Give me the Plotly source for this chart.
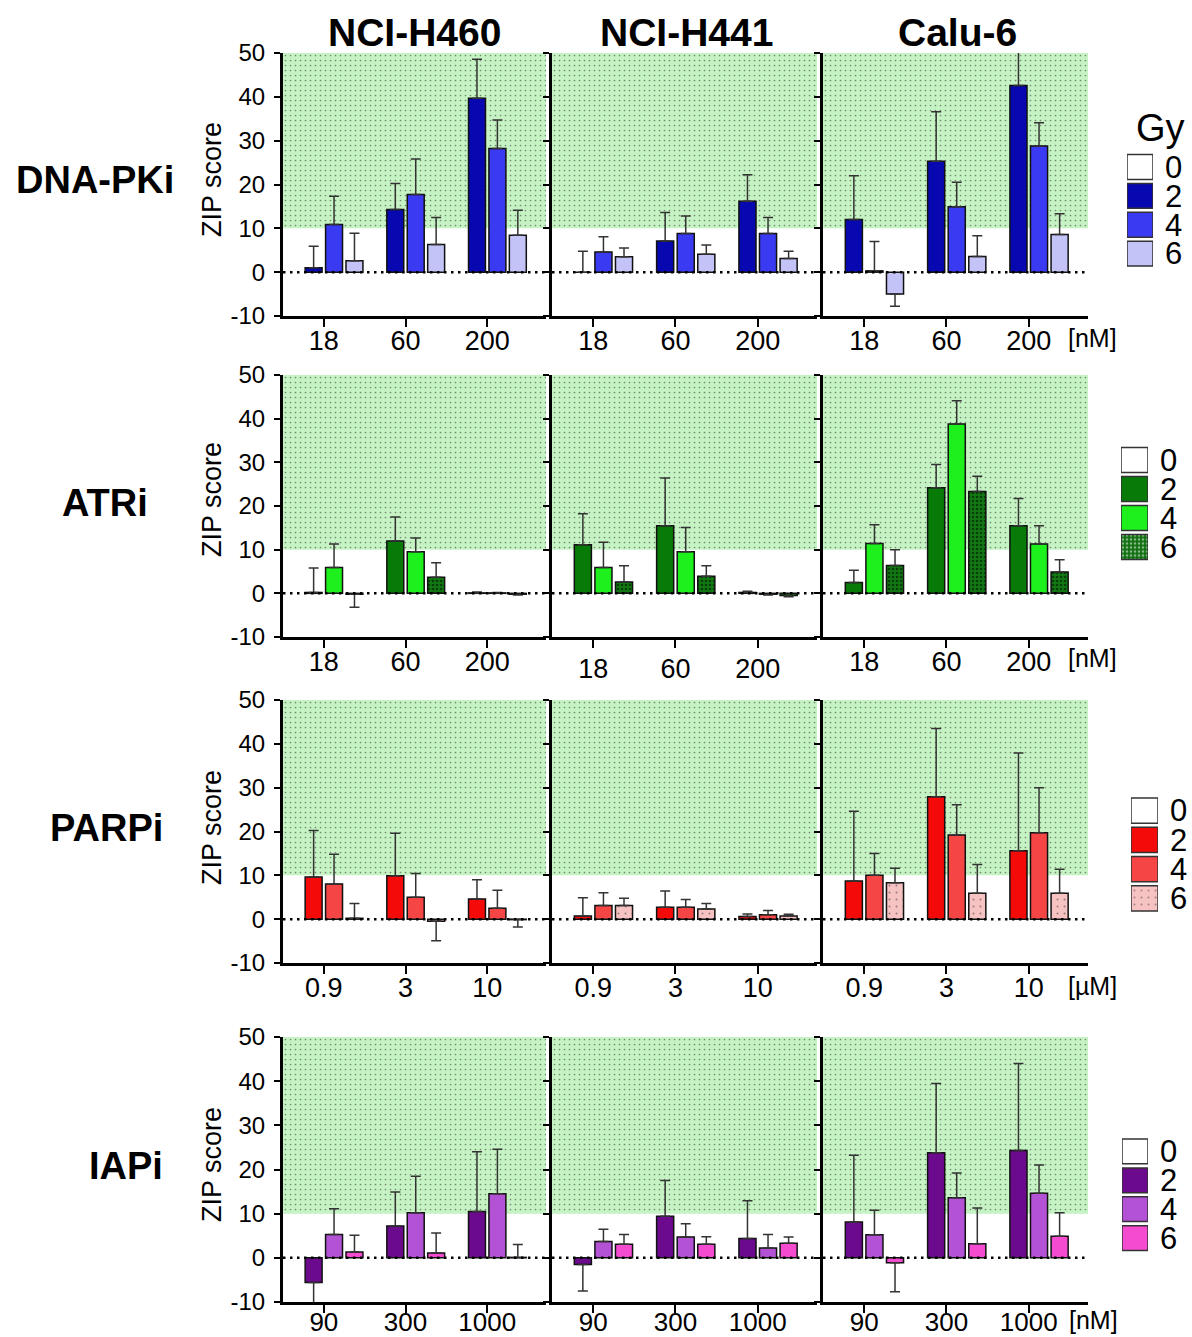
import plotly.graph_objects as go

W, H = 1192, 1337
FONT = "Liberation Sans, Arial, sans-serif"

# ---------------- data ----------------
CELL_LINES = ["NCI-H460", "NCI-H441", "Calu-6"]
DRUGS = ["DNA-PKi", "ATRi", "PARPi", "IAPi"]
DOSES_GY = ["0", "2", "4", "6"]
DNAPKI_CONC = ["18", "60", "200"]
ATRI_CONC = ["18", "60", "200"]
PARPI_CONC = ["0.9", "3", "10"]
IAPI_CONC = ["90", "300", "1000"]
UNITS = ["[nM]", "[nM]", "[µM]", "[nM]"]
SYNERGY_LOW, SYNERGY_HIGH = 10, 50
ZERO_GY = [0, 0, 0]

# ZIP score means; rows = 2, 4, 6 Gy; columns = concentrations
DNAPKI_H460_MEAN = [[1.0, 14.3, 39.7], [10.9, 17.7, 28.2], [2.6, 6.3, 8.4]]
DNAPKI_H460_ERR = [[4.9, 5.9, 8.9], [6.4, 8.1, 6.5], [6.3, 6.2, 5.7]]
DNAPKI_H441_MEAN = [[0.0, 7.1, 16.2], [4.6, 8.8, 8.8], [3.5, 4.1, 3.1]]
DNAPKI_H441_ERR = [[4.8, 6.5, 6.0], [3.5, 4.0, 3.7], [2.0, 2.1, 1.7]]
DNAPKI_CALU6_MEAN = [[12.0, 25.3, 42.6], [0.3, 14.9, 28.8], [-5.0, 3.6, 8.6]]
DNAPKI_CALU6_ERR = [[10.0, 11.3, 8.5], [6.7, 5.6, 5.3], [2.8, 4.7, 4.7]]

ATRI_H460_MEAN = [[0.2, 12.0, 0.1], [5.9, 9.5, 0.1], [-0.2, 3.7, -0.2]]
ATRI_H460_ERR = [[5.6, 5.5, 0.2], [5.4, 3.2, 0.1], [3.0, 3.3, 0.2]]
ATRI_H441_MEAN = [[11.1, 15.5, 0.2], [5.9, 9.5, -0.2], [2.6, 3.9, -0.5]]
ATRI_H441_ERR = [[7.1, 10.9, 0.3], [5.8, 5.6, 0.2], [3.7, 2.4, 0.3]]
ATRI_CALU6_MEAN = [[2.5, 24.2, 15.5], [11.4, 38.8, 11.3], [6.4, 23.3, 4.9]]
ATRI_CALU6_ERR = [[2.8, 5.3, 6.2], [4.3, 5.3, 4.2], [3.6, 3.5, 2.8]]

PARPI_H460_MEAN = [[9.6, 9.9, 4.6], [8.0, 5.0, 2.5], [0.2, -0.5, -0.1]]
PARPI_H460_ERR = [[10.6, 9.7, 4.4], [6.8, 5.4, 4.1], [3.4, 4.4, 1.7]]
PARPI_H441_MEAN = [[0.7, 2.7, 0.6], [3.1, 2.7, 1.0], [3.1, 2.3, 0.7]]
PARPI_H441_ERR = [[4.2, 3.7, 0.6], [2.9, 1.8, 1.0], [1.7, 1.3, 0.4]]
PARPI_CALU6_MEAN = [[8.7, 27.9, 15.6], [10.0, 19.2, 19.7], [8.3, 5.9, 5.9]]
PARPI_CALU6_ERR = [[15.9, 15.6, 22.3], [5.0, 6.9, 10.3], [3.3, 6.6, 5.5]]

IAPI_H460_MEAN = [[-5.6, 7.2, 10.5], [5.3, 10.2, 14.5], [1.3, 1.1, 0.1]]
IAPI_H460_ERR = [[4.9, 7.7, 13.5], [5.8, 8.3, 10.1], [3.8, 4.5, 2.9]]
IAPI_H441_MEAN = [[-1.5, 9.4, 4.4], [3.7, 4.7, 2.2], [3.1, 3.1, 3.3]]
IAPI_H441_ERR = [[6.0, 8.1, 8.5], [2.8, 3.0, 3.1], [2.2, 1.7, 1.4]]
IAPI_CALU6_MEAN = [[8.1, 23.8, 24.3], [5.2, 13.6, 14.6], [-1.1, 3.2, 4.9]]
IAPI_CALU6_ERR = [[15.1, 15.7, 19.7], [5.6, 5.6, 6.4], [6.6, 8.1, 5.3]]

CONCS = [DNAPKI_CONC, ATRI_CONC, PARPI_CONC, IAPI_CONC]
MEANS = [
    [DNAPKI_H460_MEAN, DNAPKI_H441_MEAN, DNAPKI_CALU6_MEAN],
    [ATRI_H460_MEAN, ATRI_H441_MEAN, ATRI_CALU6_MEAN],
    [PARPI_H460_MEAN, PARPI_H441_MEAN, PARPI_CALU6_MEAN],
    [IAPI_H460_MEAN, IAPI_H441_MEAN, IAPI_CALU6_MEAN],
]
ERRS = [
    [DNAPKI_H460_ERR, DNAPKI_H441_ERR, DNAPKI_CALU6_ERR],
    [ATRI_H460_ERR, ATRI_H441_ERR, ATRI_CALU6_ERR],
    [PARPI_H460_ERR, PARPI_H441_ERR, PARPI_CALU6_ERR],
    [IAPI_H460_ERR, IAPI_H441_ERR, IAPI_CALU6_ERR],
]

# ---------------- styles ----------------
COLORS = [
    ["#ffffff", "#0808b0", "#3a3af2", "#c3c3f7"],
    ["#ffffff", "#087a08", "#1ef01e", "#0e6e0e"],
    ["#ffffff", "#f50a0a", "#f54545", "#f6c2c2"],
    ["#ffffff", "#6c0a8e", "#b452d6", "#f54bd0"],
]
NOPAT = dict(shape="")
PATTERNS = [
    [NOPAT, NOPAT, NOPAT, NOPAT],
    [NOPAT, NOPAT, NOPAT, dict(shape=".", fgcolor="#000000", bgcolor="#127a12", size=4, solidity=0.35)],
    [NOPAT, NOPAT, NOPAT, dict(shape=".", fgcolor="#333333", bgcolor="#f6c2c2", size=7, solidity=0.06)],
    [NOPAT, NOPAT, NOPAT, NOPAT],
]
BAND_COLOR = "#c6f3c3"
X_RANGE = [-0.5, 2.72]
SLOT = 0.25          # width of one dose slot within a concentration group
BAR_FILL = 0.83      # fraction of slot occupied by the bar

COL_PX = [(283, 546), (552, 817), (823, 1088)]
ROW_PX = [(53, 316), (375, 637), (700, 963), (1037, 1302)]
LEG_X = [(1127, 1153), (1121, 1148), (1131, 1158), (1122, 1148)]
LEG_Y = [(152.6, 268), (445.5, 561.5), (796, 913), (1137, 1252.5)]


def px(a):
    return a / W


def py(b):
    return 1 - b / H


fig = go.Figure()
layout = {}
shapes = []
bar_w = SLOT * BAR_FILL

for r in range(4):
    for c in range(3):
        k = r * 3 + c + 1
        xa = "x" if k == 1 else f"x{k}"
        ya = "y" if k == 1 else f"y{k}"
        cats = CONCS[r]
        pos = list(range(len(cats)))
        # synergy band (drawn first, below the bars)
        fig.add_trace(go.Bar(
            x=[(X_RANGE[0] + X_RANGE[1]) / 2], y=[SYNERGY_HIGH - SYNERGY_LOW],
            base=[SYNERGY_LOW], width=[X_RANGE[1] - X_RANGE[0]],
            marker=dict(color=BAND_COLOR, line=dict(width=0),
                        pattern=dict(shape=".", fgcolor="#1a1a1a", bgcolor=BAND_COLOR,
                                     size=5, solidity=0.09)),
            xaxis=xa, yaxis=ya, showlegend=False, hoverinfo="skip"))
        for d in range(4):
            if d == 0:
                vals, errs = ZERO_GY, ZERO_GY
            else:
                vals, errs = MEANS[r][c][d - 1], ERRS[r][c][d - 1]
            up = [e if v >= 0 else 0 for v, e in zip(vals, errs)]
            dn = [e if v < 0 else 0 for v, e in zip(vals, errs)]
            fig.add_trace(go.Bar(
                x=pos, y=vals, name=DOSES_GY[d] + " Gy", customdata=cats,
                width=bar_w, offset=-2 * SLOT + SLOT * d + (SLOT - bar_w) / 2,
                marker=dict(color=COLORS[r][d],
                            line=dict(color="#111111", width=0 if d == 0 else 1.5),
                            pattern=PATTERNS[r][d]),
                error_y=dict(type="data", symmetric=False, array=up, arrayminus=dn,
                             color="#333333", thickness=1.5, width=5, visible=(d > 0)),
                xaxis=xa, yaxis=ya, showlegend=False))
        xk = "xaxis" if k == 1 else f"xaxis{k}"
        yk = "yaxis" if k == 1 else f"yaxis{k}"
        if r == 3:
            standoff, tsize = -13, 26
        elif r == 1 and c == 1:
            standoff, tsize = -2, 27
        else:
            standoff, tsize = -9, 27
        layout[xk] = dict(
            domain=[px(COL_PX[c][0]), px(COL_PX[c][1])], anchor=ya,
            range=X_RANGE, tickmode="array", tickvals=pos, ticktext=cats,
            ticks="outside", ticklen=8, tickwidth=2, tickcolor="black",
            showline=True, linewidth=3, linecolor="black",
            showgrid=False, zeroline=False,
            ticklabelstandoff=standoff,
            tickfont=dict(family=FONT, size=tsize, color="black"))
        layout[yk] = dict(
            domain=[py(ROW_PX[r][1]), py(ROW_PX[r][0])], anchor=xa,
            range=[-10, 50], tickvals=[-10, 0, 10, 20, 30, 40, 50],
            ticktext=["-10", "0", "10", "20", "30", "40", "50"],
            ticks="outside", ticklen=6, tickwidth=2, tickcolor="black",
            showline=True, linewidth=3, linecolor="black",
            showgrid=False, zeroline=False, showticklabels=(c == 0),
            ticklabelstandoff=4,
            tickfont=dict(family=FONT, size=24, color="black"))
        shapes.append(dict(type="line", xref=f"{xa} domain", yref=ya,
                           x0=0, x1=1, y0=0, y1=0, layer="above",
                           line=dict(color="black", width=2.5, dash="2.5px,4.5px")))

    # legend swatches (one per row)
    k = 13 + r
    fig.add_trace(go.Bar(
        y=DOSES_GY, x=[1, 1, 1, 1], orientation="h", width=0.86,
        marker=dict(color=COLORS[r],
                    line=dict(color="#333333", width=1.5),
                    pattern=dict(shape=[p.get("shape", "") for p in PATTERNS[r]],
                                 fgcolor=[p.get("fgcolor", "#000") for p in PATTERNS[r]],
                                 bgcolor=[p.get("bgcolor", col) for p, col in zip(PATTERNS[r], COLORS[r])],
                                 size=[p.get("size", 6) for p in PATTERNS[r]],
                                 solidity=[p.get("solidity", 0.3) for p in PATTERNS[r]])),
        xaxis=f"x{k}", yaxis=f"y{k}", showlegend=False, hoverinfo="skip"))
    layout[f"xaxis{k}"] = dict(domain=[px(LEG_X[r][0]), px(LEG_X[r][1])], anchor=f"y{k}",
                               range=[0, 1], visible=False)
    layout[f"yaxis{k}"] = dict(domain=[py(LEG_Y[r][1]), py(LEG_Y[r][0])], anchor=f"x{k}",
                               type="category", categoryorder="array", categoryarray=DOSES_GY,
                               tickmode="array", tickvals=DOSES_GY, ticktext=DOSES_GY,
                               range=[3.5, -0.5], side="right", ticks="", showline=False,
                               showgrid=False, zeroline=False, ticklabelstandoff=11,
                               tickfont=dict(family=FONT, size=31, color="black"))

annotations = []


def ann(x, y, text, size, bold=False, angle=0):
    annotations.append(dict(x=px(x), y=py(y), xref="paper", yref="paper", text=text,
                            showarrow=False, xanchor="center", yanchor="middle", textangle=angle,
                            font=dict(family=FONT, size=size, color="black",
                                      weight="bold" if bold else "normal")))


for name, xc in zip(CELL_LINES, [414, 686, 957]):
    ann(xc, 32, name, 39, bold=True)
for name, (xc, yc) in zip(DRUGS, [(95, 180), (105, 503), (106, 828), (126, 1166)]):
    ann(xc, yc, name, 38, bold=True)
for yc in [180, 500, 828, 1165]:
    ann(212, yc, "ZIP score", 27, angle=-90)
for unit, (xc, yc) in zip(UNITS, [(1092, 338), (1092, 658), (1092, 986), (1093, 1320)]):
    ann(xc, yc, unit, 25)
ann(1160, 128, "Gy", 38)

fig.update_layout(
    width=W, height=H,
    margin=dict(l=0, r=0, t=0, b=0, autoexpand=False),
    paper_bgcolor="white", plot_bgcolor="rgba(0,0,0,0)",
    barmode="overlay",
    showlegend=False,
    shapes=shapes, annotations=annotations,
    font=dict(family=FONT, color="black"),
    **layout)

fig.write_html("out.html")
